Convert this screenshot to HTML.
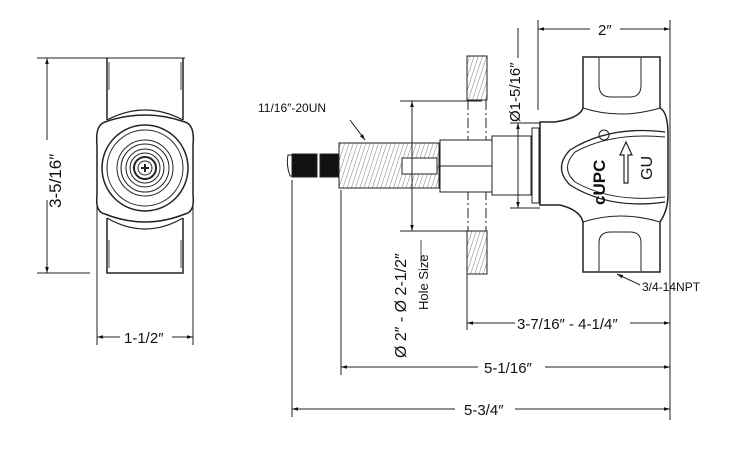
<!DOCTYPE html>
<html><head><style>
html,body{margin:0;padding:0;background:#fff;}
svg{display:block;}
text{font-family:"Liberation Sans",sans-serif;fill:#111;}
</style></head><body>
<svg width="750" height="450" viewBox="0 0 750 450" xmlns="http://www.w3.org/2000/svg">
<defs>
<marker id="a" viewBox="0 0 10 10" refX="10" refY="5" markerWidth="9" markerHeight="6" orient="auto-start-reverse"><path d="M0,2 L10,5 L0,8 z" fill="#111"/></marker>
<pattern id="h" width="4" height="4" patternUnits="userSpaceOnUse" patternTransform="rotate(18)"><line x1="0" y1="0" x2="0" y2="4" stroke="#444" stroke-width="0.7"/></pattern>
</defs>
<g stroke="#222" fill="none" stroke-width="1">
<!-- LEFT VIEW -->
<line x1="37" y1="58" x2="185" y2="58"/>
<line x1="37" y1="273" x2="90" y2="273"/>
<line x1="47" y1="58" x2="47" y2="140" marker-start="url(#a)"/>
<line x1="47" y1="200" x2="47" y2="273" marker-end="url(#a)"/>
<path d="M107,58 V120 M183,58 V120 M107,218 V273 H183 V218" stroke-width="1.5"/>
<path d="M109,62 V90 M181,62 V90 M109,240 V268 M181,240 V268" stroke-width="0.8"/>
<path d="M107,120 Q145,100 183,120 M107,218 Q145,240 183,218" stroke-width="1.2"/>
<path d="M105,122 Q145,108 185,122 Q195,125 193,145 V195 Q195,212 185,214 Q145,230 105,214 Q95,212 97,195 V145 Q95,125 105,122 Z" stroke-width="1.5"/>
<circle cx="145" cy="168" r="43" stroke-width="1.5"/>
<circle cx="145" cy="168" r="38"/>
<circle cx="145" cy="168" r="28"/>
<circle cx="145" cy="168" r="24"/>
<circle cx="145" cy="168" r="19"/>
<circle cx="145" cy="168" r="15"/>
<circle cx="145" cy="168" r="11" stroke-width="2"/>
<circle cx="145" cy="168" r="7"/>
<path d="M141,168 H149 M145,164 V172" stroke-width="2"/>
<line x1="97" y1="185" x2="97" y2="345"/>
<line x1="193" y1="185" x2="193" y2="345"/>
<line x1="97" y1="337" x2="120" y2="337" marker-start="url(#a)"/>
<line x1="172" y1="337" x2="193" y2="337" marker-end="url(#a)"/>

<!-- RIGHT VIEW: flange -->
<rect x="467" y="56" width="20" height="44" fill="url(#h)"/>
<rect x="467" y="231" width="20" height="43" fill="url(#h)"/>
<path d="M468,100 V231 M486,100 V231" stroke-dasharray="10,3,2,3"/>
<!-- shaft -->
<rect x="339" y="143" width="100" height="45" fill="url(#h)"/>
<rect x="402" y="158" width="35" height="16" fill="#fff"/>
<path d="M288,155 Q286,165 290,176 H300 V155 Z" fill="#fff"/>
<rect x="292" y="154" width="25" height="23" fill="#111"/>
<rect x="320" y="154" width="19" height="23" fill="#111"/>
<rect x="440" y="140" width="52" height="52" fill="#fff"/>
<line x1="440" y1="166" x2="492" y2="166"/>
<rect x="492" y="136" width="39" height="59" fill="#fff"/>
<rect x="532" y="128" width="7" height="75" fill="#fff"/>
<!-- body -->
<path d="M583,57 H660 V108 Q668,112 668,135 V195 Q668,210 660,222 V272 H583 V222 Q580,210 560,205 H540 V122 H555 Q580,118 583,108 Z" fill="#fff" stroke-width="1.5"/>
<path d="M599,58 V85 Q599,97 611,97 H630 Q641,97 641,85 V58" />
<path d="M599,271 V243 Q599,232 611,232 H630 Q641,232 641,243 V271"/>
<path d="M583,108 Q620,120 660,108 M583,222 Q620,210 660,222"/>
<path d="M665,132 Q610,125 570,150 Q553,168 570,185 Q610,210 665,202" stroke-width="1.3"/>
<path d="M665,137 Q612,132 575,152 Q560,168 575,182 Q612,203 665,197"/>
<text transform="translate(605,205) rotate(-90)" font-size="17" font-weight="bold" stroke="none">cUPC</text>
<circle cx="604" cy="135" r="5"/>
<path d="M624,183 V155 H620 L626,142 L632,155 H628 V183 Z" stroke-width="1.2"/>
<text transform="translate(652,180) rotate(-90)" font-size="16" stroke="none">GU</text>
<!-- dims -->
<line x1="538" y1="20" x2="538" y2="110"/>
<line x1="670" y1="20" x2="670" y2="420"/>
<line x1="538" y1="29" x2="590" y2="29" marker-start="url(#a)"/>
<line x1="620" y1="29" x2="670" y2="29" marker-end="url(#a)"/>
<line x1="400" y1="101" x2="482" y2="101"/>
<line x1="400" y1="231" x2="482" y2="231"/>
<line x1="412" y1="101" x2="412" y2="231" marker-start="url(#a)" marker-end="url(#a)"/>
<line x1="421" y1="240" x2="421" y2="262" stroke-width="0.8"/>
<line x1="510" y1="123" x2="540" y2="123"/>
<line x1="510" y1="208" x2="540" y2="208"/>
<line x1="518" y1="123" x2="518" y2="208" marker-start="url(#a)" marker-end="url(#a)"/>
<line x1="518" y1="28" x2="518" y2="58"/>
<line x1="350" y1="120" x2="365" y2="140" marker-end="url(#a)"/>
<line x1="640" y1="285" x2="617" y2="274" marker-end="url(#a)"/>
<line x1="467" y1="240" x2="467" y2="330"/>
<line x1="467" y1="323" x2="515" y2="323" marker-start="url(#a)"/>
<line x1="630" y1="323" x2="670" y2="323" marker-end="url(#a)"/>
<line x1="341" y1="190" x2="341" y2="375"/>
<line x1="341" y1="367" x2="478" y2="367" marker-start="url(#a)"/>
<line x1="545" y1="367" x2="670" y2="367" marker-end="url(#a)"/>
<line x1="292" y1="180" x2="292" y2="417"/>
<line x1="292" y1="409" x2="455" y2="409" marker-start="url(#a)"/>
<line x1="515" y1="409" x2="670" y2="409" marker-end="url(#a)"/>
</g>
<text transform="translate(61,208) rotate(-90)" font-size="17">3-5/16″</text>
<text x="124" y="343" font-size="15">1-1/2″</text>
<text x="258" y="112" font-size="12">11/16″-20UN</text>
<text x="598" y="35" font-size="15">2″</text>
<text transform="translate(520,122) rotate(-90)" font-size="15">Ø1-5/16″</text>
<text transform="translate(406,358) rotate(-90)" font-size="16">Ø 2″ - Ø 2-1/2″</text>
<text transform="translate(428,310) rotate(-90)" font-size="13">Hole Size</text>
<text x="642" y="291" font-size="12">3/4-14NPT</text>
<text x="517" y="329" font-size="15">3-7/16″ - 4-1/4″</text>
<text x="484" y="373" font-size="15">5-1/16″</text>
<text x="464" y="415" font-size="15">5-3/4″</text>
</svg>
</body></html>
